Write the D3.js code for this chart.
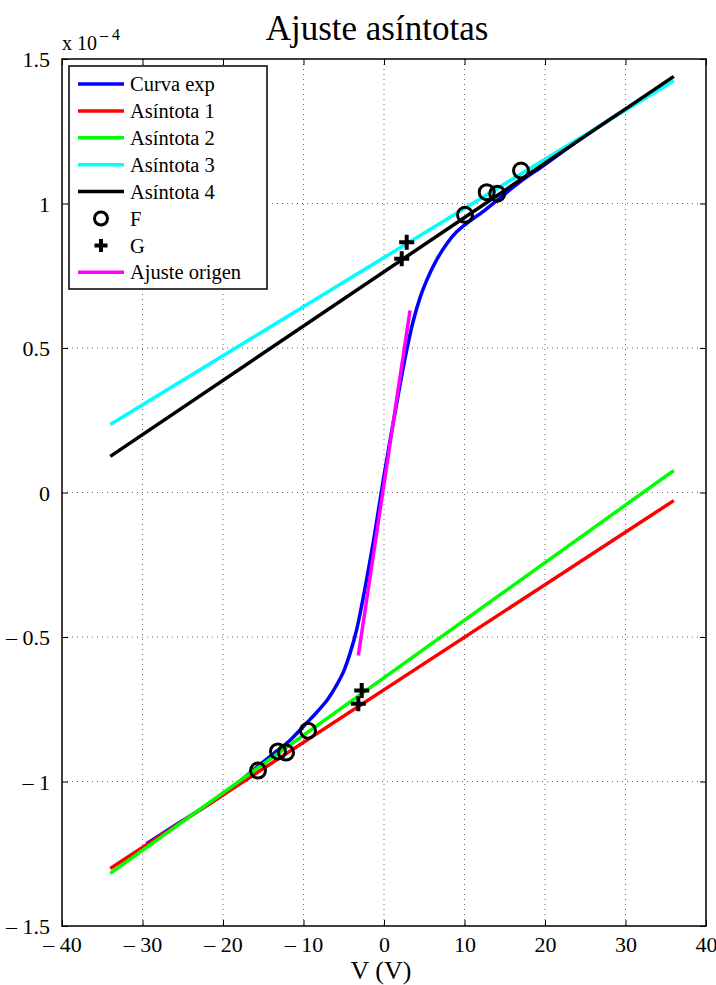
<!DOCTYPE html>
<html>
<head>
<meta charset="utf-8">
<script src="https://cdn.jsdelivr.net/npm/d3@7"></script>
<style>
  html, body { margin: 0; padding: 0; background: #fff; }
  svg { display: block; font-family: "Liberation Serif", "DejaVu Serif", serif; }
</style>
</head>
<body>
<svg id="chart" width="716" height="985"></svg>
<script>
// Current values are given in units of 1e-4 A (axis multiplier shown at top left)
const yExponent = -4;

// Measured I–V curve
const curveV = [-29.5, -25, -20, -15.8, -13.75, -11.7, -9.7, -8.4, -7.1, -6.0, -5.0, -4.2, -3.4, -2.8, -1.3, -0.3, 0.75, 1.8, 2.8, 3.6, 4.5, 5.3, 6.5, 7.8, 9.0, 10.7, 12.3, 14.0, 16.9, 20, 25, 29.5];
const curveI = [-1.215, -1.135, -1.045, -0.95, -0.904, -0.858, -0.80, -0.762, -0.72, -0.672, -0.618, -0.555, -0.475, -0.395, -0.166, 0.007, 0.18, 0.343, 0.49, 0.59, 0.676, 0.734, 0.803, 0.861, 0.901, 0.940, 0.972, 1.010, 1.075, 1.135, 1.235, 1.317];

// Asymptote lines: [V start, V end] and [I start, I end]
const asymV = [-34, 36];
const asym1I = [-1.301, -0.028];
const asym2I = [-1.318, 0.076];
const asym3I = [0.235, 1.425];
const asym4I = [0.125, 1.44];

// Points F (circles) and G (crosses)
const fV = [-15.65, -13.17, -12.17, -9.44, 10.06, 12.76, 14.07, 17.02];
const fI = [-0.962, -0.896, -0.900, -0.824, 0.961, 1.039, 1.034, 1.114];
const gV = [-2.77, -3.19, 2.82, 2.20];
const gI = [-0.685, -0.731, 0.866, 0.809];

// Linear fit near the origin
const originV = [-3.19, 3.23];
const originI = [-0.564, 0.630];

// Axis ticks
const xTicks = [-40, -30, -20, -10, 0, 10, 20, 30, 40];
const yTicks = [-1.5, -1, -0.5, 0, 0.5, 1, 1.5];

const legendNames = ["Curva exp", "Asíntota 1", "Asíntota 2", "Asíntota 3", "Asíntota 4", "F", "G", "Ajuste origen"];

const svg = d3.select("#chart");
const box = { left: 62, right: 706, top: 59, bottom: 926 };

const x = d3.scaleLinear().domain([-40, 40]).range([box.left, box.right]);
const y = d3.scaleLinear().domain([-1.5, 1.5]).range([box.bottom, box.top]);

const fmt = v => (v < 0 ? "\u2013 " + String(Math.abs(v)) : String(v));

// Dotted grid
const grid = svg.append("g");
grid.selectAll("line.gx").data(xTicks.slice(1, -1)).join("line")
  .attr("x1", d => x(d)).attr("x2", d => x(d))
  .attr("y1", box.top).attr("y2", box.bottom)
  .attr("stroke", "#666").attr("stroke-width", 1).attr("stroke-dasharray", "1,4");
grid.selectAll("line.gy").data(yTicks.slice(1, -1)).join("line")
  .attr("y1", d => y(d)).attr("y2", d => y(d))
  .attr("x1", box.left).attr("x2", box.right)
  .attr("stroke", "#666").attr("stroke-width", 1).attr("stroke-dasharray", "1,4");

// Axes: tick labels outside, inward ticks on all sides
const xAxisB = d3.axisBottom(x).tickValues(xTicks).tickSize(-6).tickPadding(10).tickFormat(fmt);
const xAxisT = d3.axisTop(x).tickValues(xTicks).tickSize(-6).tickFormat("");
const yAxisL = d3.axisLeft(y).tickValues(yTicks).tickSize(-6).tickPadding(12).tickFormat(fmt);
const yAxisR = d3.axisRight(y).tickValues(yTicks).tickSize(-6).tickFormat("");

function styleAxis(g) {
  g.select(".domain").remove();
  g.selectAll(".tick line").attr("stroke", "#000").attr("stroke-width", 1);
  g.selectAll("text").attr("font-family", "Liberation Serif").attr("font-size", 22).attr("fill", "#000");
}
svg.append("g").attr("transform", `translate(0,${box.bottom})`).call(xAxisB).call(styleAxis);
svg.append("g").attr("transform", `translate(0,${box.top})`).call(xAxisT).call(styleAxis);
svg.append("g").attr("transform", `translate(${box.left},0)`).call(yAxisL).call(styleAxis)
  .selectAll("text").attr("dy", "0.35em");
svg.append("g").attr("transform", `translate(${box.right},0)`).call(yAxisR).call(styleAxis);

// Plot area frame
svg.append("rect")
  .attr("x", box.left).attr("y", box.top)
  .attr("width", box.right - box.left).attr("height", box.bottom - box.top)
  .attr("fill", "none").attr("stroke", "#000").attr("stroke-width", 1.5);

const line = d3.line().x(d => x(d[0])).y(d => y(d[1]));
const zip = (a, b) => a.map((v, i) => [v, b[i]]);
const LW = 3.5;

const plot = svg.append("g");
plot.append("path").datum(zip(curveV, curveI))
  .attr("d", line.curve(d3.curveCatmullRom.alpha(0.5)))
  .attr("fill", "none").attr("stroke", "#0000ff").attr("stroke-width", LW);
line.curve(d3.curveLinear);

const asymptotes = [[asym1I, "#ff0000"], [asym2I, "#00ff00"], [asym3I, "#00ffff"], [asym4I, "#000000"]];
asymptotes.forEach(([vals, color]) => {
  plot.append("path").datum(zip(asymV, vals))
    .attr("d", line)
    .attr("fill", "none").attr("stroke", color).attr("stroke-width", LW);
});

// F markers
plot.selectAll("circle.f").data(zip(fV, fI)).join("circle")
  .attr("cx", d => x(d[0])).attr("cy", d => y(d[1])).attr("r", 7.5)
  .attr("fill", "none").attr("stroke", "#000").attr("stroke-width", 3);

// G markers
const crossPath = "M-7.5,0H7.5M0,-7.5V7.5";
plot.selectAll("path.g").data(zip(gV, gI)).join("path")
  .attr("transform", d => `translate(${x(d[0])},${y(d[1])})`)
  .attr("d", crossPath)
  .attr("stroke", "#000").attr("stroke-width", 4).attr("fill", "none");

plot.append("path").datum(zip(originV, originI))
  .attr("d", line)
  .attr("fill", "none").attr("stroke", "#ff00ff").attr("stroke-width", LW);

// Legend
const lg = svg.append("g");
const lgBox = { x: 69, y: 66, w: 198, h: 223 };
lg.append("rect").attr("x", lgBox.x).attr("y", lgBox.y).attr("width", lgBox.w).attr("height", lgBox.h)
  .attr("fill", "#fff").attr("stroke", "#000").attr("stroke-width", 1.5);
const lgColors = ["#0000ff", "#ff0000", "#00ff00", "#00ffff", "#000000", null, null, "#ff00ff"];
const rowY = i => 84 + i * 26.9;
legendNames.forEach((name, i) => {
  const cy = rowY(i);
  if (lgColors[i]) {
    lg.append("line").attr("x1", 78).attr("x2", 124).attr("y1", cy).attr("y2", cy)
      .attr("stroke", lgColors[i]).attr("stroke-width", LW);
  } else if (name === "F") {
    lg.append("circle").attr("cx", 101).attr("cy", cy).attr("r", 6.5)
      .attr("fill", "none").attr("stroke", "#000").attr("stroke-width", 3);
  } else {
    lg.append("path").attr("transform", `translate(101,${cy})`).attr("d", "M-6.5,0H6.5M0,-6.5V6.5")
      .attr("stroke", "#000").attr("stroke-width", 4);
  }
  lg.append("text").attr("x", 130).attr("y", cy).attr("dy", "0.35em")
    .attr("font-size", 20.5).attr("fill", "#000").text(name);
});

// Exponent multiplier
const ex = svg.append("text").attr("x", 62).attr("y", 50).attr("font-size", 20).attr("fill", "#000");
ex.append("tspan").text("x 10");
ex.append("tspan").attr("dy", -10).attr("dx", 3).attr("font-size", 16).text("\u2013 " + Math.abs(yExponent));

// Title and axis label
svg.append("text").attr("x", 377).attr("y", 40).attr("text-anchor", "middle")
  .attr("font-size", 35).attr("fill", "#000").text("Ajuste asíntotas");
svg.append("text").attr("x", 381).attr("y", 979).attr("text-anchor", "middle")
  .attr("font-size", 26).attr("fill", "#000").text("V (V)");
</script>
</body>
</html>
